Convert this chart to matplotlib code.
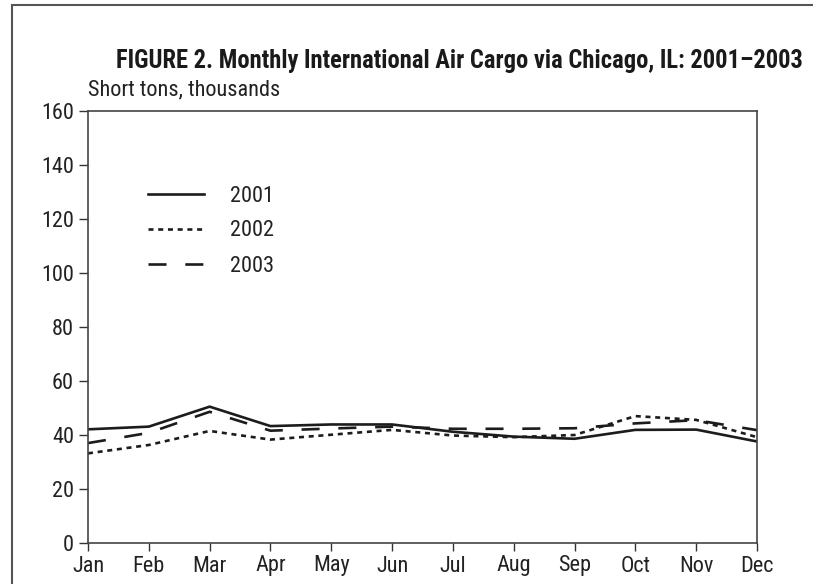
import re
import matplotlib
matplotlib.use("Agg")
import matplotlib.pyplot as plt
from matplotlib import font_manager
from matplotlib.font_manager import FontProperties
from matplotlib.patches import Rectangle

months = ["Jan", "Feb", "Mar", "Apr", "May", "Jun", "Jul", "Aug", "Sep", "Oct", "Nov", "Dec"]
y2001 = [42.1, 43.1, 50.5, 43.3, 43.9, 43.9, 41.2, 39.4, 38.6, 41.9, 42.0, 37.6]
y2002 = [33.2, 36.3, 41.5, 38.3, 40.1, 41.9, 39.8, 39.2, 40.0, 47.0, 45.6, 39.2]
y2003 = [37.0, 40.8, 48.6, 41.6, 42.4, 43.1, 42.3, 42.3, 42.5, 44.3, 45.5, 41.8]
yticks = [0, 20, 40, 60, 80, 100, 120, 140, 160]
title_text = 'FIGURE 2. Monthly International Air Cargo via Chicago, IL: 2001\u20132003'
ylabel_text = 'Short tons, thousands'

# ---- pick a narrow sans-serif (regular + bold files) if one is installed ----
def wnum(w):
    if isinstance(w, (int, float)):
        return int(w)
    return font_manager.weight_dict.get(str(w), 400)

wre = re.compile(r'\s*(extra\s*light|ultra\s*light|semi\s*bold|demi\s*bold|extra\s*bold|ultra\s*bold|'
                 r'thin|light|medium|bold|black|heavy|regular)\s*', re.I)
groups = {}
for f in font_manager.fontManager.ttflist:
    n = f.name
    narrow = ('narrow' in n.lower() or 'condensed' in n.lower() or
              f.stretch in ('condensed', 'semi-condensed', 'extra-condensed', 'ultra-condensed'))
    if not narrow or f.style != 'normal':
        continue
    base = wre.sub(' ', n).strip()
    groups.setdefault(base, []).append(f)

preferred = ['liberation sans narrow', 'arial narrow', 'nimbus sans narrow', 'helvetica condensed',
             'roboto condensed']

def rank(b):
    bl = b.lower()
    if bl in preferred:
        return preferred.index(bl)
    if 'condensed' in bl and not any(k in bl for k in ('semi', 'extra', 'ultra', 'mono', 'serif')):
        return 10
    if 'mono' in bl or 'serif' in bl:
        return 30
    return 20

reg_fp = FontProperties(family='DejaVu Sans')
bold_fp = FontProperties(family='DejaVu Sans', weight='bold')
if groups:
    base = sorted(groups, key=lambda b: (rank(b), b))[0]
    fl = groups[base]
    reg = min(fl, key=lambda f: abs(wnum(f.weight) - 400))
    bl = [f for f in fl if wnum(f.weight) >= 600]
    reg_fp = FontProperties(fname=reg.fname)
    if bl:
        bold_fp = FontProperties(fname=min(bl, key=lambda f: abs(wnum(f.weight) - 700)).fname)
    else:
        bold_fp = FontProperties(fname=reg.fname, weight='bold')

plt.rcParams['lines.scale_dashes'] = False

W, H = 813, 584
FS = 16
fig = plt.figure(figsize=(W / 100, H / 100), dpi=100)
ax = fig.add_axes([88 / W, 1 - 543 / H, (757 - 88) / W, (543 - 111) / H])

ink = '#1c1c1c'
x = list(range(len(months)))
ax.plot(x, y2001, color=ink, lw=1.9, solid_joinstyle='miter', label='2001')
ax.plot(x, y2002, color=ink, lw=1.9, linestyle=(0, (3.6, 3.4)), label='2002')
ax.plot(x, y2003, color=ink, lw=1.9, linestyle=(0, (13, 13.5)), label='2003')

ax.set_xlim(0, 11)
ax.set_ylim(0, 160)
ax.set_xticks(x)
ax.set_xticklabels(months)
ax.set_yticks(yticks)
ax.tick_params(axis='both', direction='out', width=1, color='#333333', labelcolor='#222222')
ax.tick_params(axis='x', length=6, pad=3)
ax.tick_params(axis='y', length=6.5, pad=3.5)
tick_fp = reg_fp.copy()
tick_fp.set_size(FS)
for lab in ax.get_xticklabels() + ax.get_yticklabels():
    lab.set_fontproperties(tick_fp)
for s in ax.spines.values():
    s.set_color('#444444')
    s.set_linewidth(1.2)

leg_fp = reg_fp.copy()
leg_fp.set_size(FS)
leg = ax.legend(loc='center left', bbox_to_anchor=((148 - 88) / 669, (543 - 231) / 432),
                frameon=False, prop=leg_fp, borderpad=0, borderaxespad=0,
                handlelength=2.52, handletextpad=1.17, labelspacing=0.63,
                labelcolor='#222222')

tfp = bold_fp.copy()
tfp.set_size(20)
title = fig.text(116 / W, 1 - 61 / H, title_text, ha='left', va='center',
                 fontproperties=tfp, color='#1a1a1a')
yfp = reg_fp.copy()
yfp.set_size(FS)
fig.text(88 / W, 1 - 90 / H, ylabel_text, ha='left', va='center',
         fontproperties=yfp, color='#222222')

# fit the title width to the reference span
fig.canvas.draw()
r = fig.canvas.get_renderer()
w = title.get_window_extent(r).width
tfp2 = tfp.copy()
tfp2.set_size(20 * (802 - 116) / w)
title.set_fontproperties(tfp2)

fig.patches.append(Rectangle((12 / W, -0.1), 1.2, 1 - 5.5 / H + 0.1, transform=fig.transFigure,
                             fill=False, edgecolor='#555555', lw=1.5))

fig.savefig('out.png', dpi=100)
